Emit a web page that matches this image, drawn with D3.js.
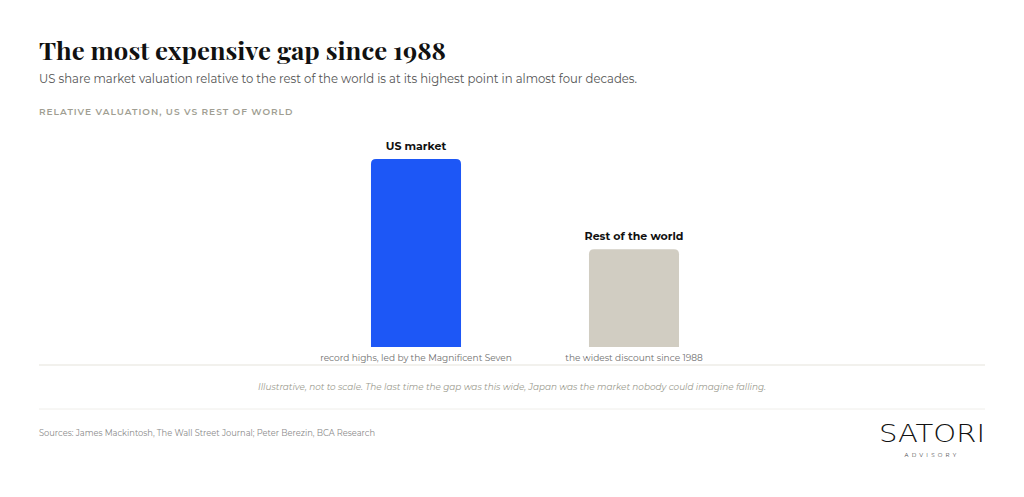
<!DOCTYPE html>
<html>
<head>
<meta charset="utf-8">
<script src="https://cdn.jsdelivr.net/npm/d3@7"></script>
<style>
  html, body { margin: 0; padding: 0; background: #ffffff; }
  svg { display: block; }
</style>
</head>
<body>
<svg id="chart" width="1024" height="497"></svg>
<script>
// ---- Data ----
const categories = ["US market", "Rest of the world"];
const values = [100, 52];            // illustrative relative valuation (not to scale)
const notes = ["record highs, led by the Magnificent Seven", "the widest discount since 1988"];
const barColors = ["#1d57f6", "#d1cdc2"];

const title = "The most expensive gap since 1988";
const subtitle = "US share market valuation relative to the rest of the world is at its highest point in almost four decades.";
const axisLabel = "RELATIVE VALUATION, US VS REST OF WORLD";
const footnote = "Illustrative, not to scale. The last time the gap was this wide, Japan was the market nobody could imagine falling.";
const sources = "Sources: James Mackintosh, The Wall Street Journal; Peter Berezin, BCA Research";

// ---- Layout ----
const svg = d3.select("#chart");
const sans = "Montserrat, 'Noto Sans', 'Open Sans', sans-serif";

svg.append("text").attr("x", 39).attr("y", 60)
  .attr("font-family", "'Playfair Display', 'DejaVu Serif', serif")
  .attr("font-weight", 700).attr("font-size", 24.5).attr("fill", "#111")
  .attr("textLength", 407).attr("lengthAdjust", "spacingAndGlyphs")
  .text(title);

svg.append("text").attr("x", 39).attr("y", 83)
  .attr("font-family", sans).attr("font-size", 12.3).attr("fill", "#555")
  .attr("textLength", 598).attr("lengthAdjust", "spacingAndGlyphs")
  .text(subtitle);

svg.append("text").attr("x", 39).attr("y", 115)
  .attr("font-family", sans).attr("font-size", 9).attr("font-weight", 600)
  .attr("fill", "#a09e92").attr("letter-spacing", 1.6)
  .attr("textLength", 255).attr("lengthAdjust", "spacing")
  .text(axisLabel);

// scales
const x = d3.scaleBand().domain(categories).range([307, 743])
  .paddingInner(0.587).paddingOuter(0.2935);
const baseY = 347;
const y = d3.scaleLinear().domain([0, 100]).range([baseY, 159]);

const g = svg.append("g");
const bw = x.bandwidth();
const r = 5;
categories.forEach((c, i) => {
  const x0 = x(c), y0 = y(values[i]);
  const p = d3.path();
  p.moveTo(x0, baseY);
  p.lineTo(x0, y0 + r);
  p.quadraticCurveTo(x0, y0, x0 + r, y0);
  p.lineTo(x0 + bw - r, y0);
  p.quadraticCurveTo(x0 + bw, y0, x0 + bw, y0 + r);
  p.lineTo(x0 + bw, baseY);
  p.closePath();
  g.append("path").attr("d", p.toString()).attr("fill", barColors[i]);

  g.append("text").attr("x", x0 + bw / 2).attr("y", y0 - 9)
    .attr("text-anchor", "middle").attr("font-family", sans)
    .attr("font-weight", 700).attr("font-size", 11).attr("fill", "#111")
    .text(c);

  g.append("text").attr("x", x0 + bw / 2).attr("y", 361)
    .attr("text-anchor", "middle").attr("font-family", sans)
    .attr("font-size", 9).attr("fill", "#6f6f6f")
    .text(notes[i]);
});

// rules
svg.append("line").attr("x1", 39).attr("x2", 985).attr("y1", 365).attr("y2", 365)
  .attr("stroke", "#e6e4dc").attr("stroke-width", 1.2);
svg.append("line").attr("x1", 39).attr("x2", 985).attr("y1", 409).attr("y2", 409)
  .attr("stroke", "#efeeea").attr("stroke-width", 1);

svg.append("text").attr("x", 512).attr("y", 390)
  .attr("text-anchor", "middle").attr("font-family", sans)
  .attr("font-style", "italic").attr("font-size", 9.6).attr("fill", "#9a9a8e")
  .attr("textLength", 508).attr("lengthAdjust", "spacingAndGlyphs")
  .text(footnote);

svg.append("text").attr("x", 39).attr("y", 436)
  .attr("font-family", sans).attr("font-size", 8.6).attr("fill", "#8a8a8a")
  .attr("textLength", 336).attr("lengthAdjust", "spacingAndGlyphs")
  .text(sources);

// logo
svg.append("text").attr("x", 932).attr("y", 442)
  .attr("text-anchor", "middle").attr("font-family", "'DejaVu Sans', sans-serif")
  .attr("font-weight", 300).attr("font-size", 25).attr("fill", "#111")
  .attr("textLength", 106).attr("lengthAdjust", "spacingAndGlyphs")
  .text("SATORI");
svg.append("text").attr("x", 932).attr("y", 457)
  .attr("text-anchor", "middle").attr("font-family", sans)
  .attr("font-size", 5.5).attr("fill", "#444").attr("letter-spacing", 3.2)
  .text("ADVISORY");
</script>
</body>
</html>
